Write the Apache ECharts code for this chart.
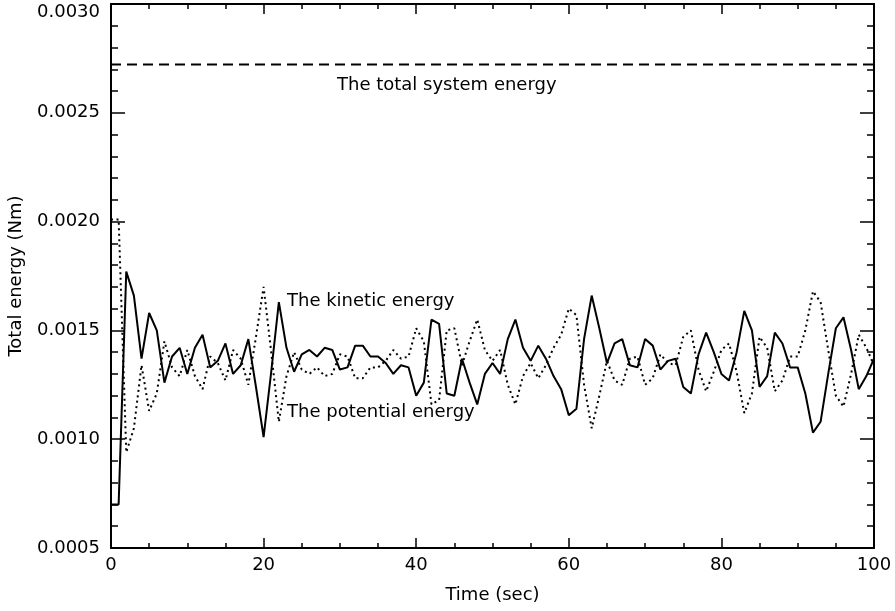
<!DOCTYPE html>
<html>
<head>
<meta charset="utf-8">
<script src="https://cdn.jsdelivr.net/npm/echarts@6/dist/echarts.min.js"></script>
<style>
html,body{margin:0;padding:0;background:#fff;}
#chart{width:895px;height:611px;}
</style>
</head>
<body>
<div id="chart"></div>
<script>
// Data (time step 1 s, t = 0..100)
const timeStep = 1;
const kineticEnergy = [
0.00070,0.00070,0.00177,0.00166,0.00137,0.00158,0.00150,0.00126,0.00138,0.00142,
0.00130,0.00142,0.00148,0.00133,0.00136,0.00144,0.00130,0.00134,0.00146,0.00124,
0.00101,0.00131,0.00163,0.00142,0.00131,0.00139,0.00141,0.00138,0.00142,0.00141,
0.00132,0.00133,0.00143,0.00143,0.00138,0.00138,0.00135,0.00130,0.00134,0.00133,
0.00120,0.00126,0.00155,0.00153,0.00121,0.00120,0.00137,0.00126,0.00116,0.00130,
0.00135,0.00130,0.00146,0.00155,0.00142,0.00136,0.00143,0.00137,0.00129,0.00123,
0.00111,0.00114,0.00146,0.00166,0.00151,0.00135,0.00144,0.00146,0.00134,0.00133,
0.00146,0.00143,0.00132,0.00136,0.00137,0.00124,0.00121,0.00139,0.00149,0.00140,
0.00130,0.00127,0.00140,0.00159,0.00150,0.00124,0.00129,0.00149,0.00144,0.00133,
0.00133,0.00121,0.00103,0.00108,0.00130,0.00151,0.00156,0.00141,0.00123,0.00129,
0.00137
];
const potentialEnergy = [
0.00201,0.00201,0.00094,0.00105,0.00134,0.00113,0.00121,0.00145,0.00133,0.00129,
0.00141,0.00129,0.00123,0.00138,0.00135,0.00127,0.00141,0.00137,0.00125,0.00147,
0.00170,0.00140,0.00108,0.00129,0.00140,0.00132,0.00130,0.00133,0.00129,0.00130,
0.00139,0.00138,0.00128,0.00128,0.00133,0.00133,0.00136,0.00141,0.00137,0.00138,
0.00151,0.00145,0.00116,0.00118,0.00150,0.00151,0.00134,0.00145,0.00155,0.00141,
0.00136,0.00141,0.00125,0.00116,0.00129,0.00135,0.00128,0.00134,0.00142,0.00148,
0.00160,0.00157,0.00125,0.00105,0.00120,0.00136,0.00127,0.00125,0.00137,0.00138,
0.00125,0.00128,0.00139,0.00135,0.00134,0.00147,0.00150,0.00132,0.00122,0.00131,
0.00141,0.00144,0.00131,0.00112,0.00121,0.00147,0.00142,0.00122,0.00127,0.00138,
0.00138,0.00150,0.00168,0.00163,0.00141,0.00120,0.00115,0.00130,0.00148,0.00142,
0.00134
];
const totalTimes = [0, 100];
const totalEnergy = [0.002722, 0.002722];
const xTicks = [0, 20, 40, 60, 80, 100];
const yTicks = [0.0005, 0.0010, 0.0015, 0.0020, 0.0025, 0.0030];
const annotations = {
  total: 'The total system energy',
  kinetic: 'The kinetic energy',
  potential: 'The potential energy'
};

const FONT = 'DejaVu Sans';
const chart = echarts.init(document.getElementById('chart'), null, {renderer: 'canvas'});

const pair = (arr) => arr.map((v, i) => [i * timeStep, v]);

const axisLine = {show: true, onZero: false, lineStyle: {color: '#000', width: 2}};
function xAxisDef(pos, showLabel) {
  return {
    type: 'value', position: pos,
    min: xTicks[0], max: xTicks[xTicks.length - 1], interval: xTicks[1] - xTicks[0],
    axisLine: axisLine,
    axisTick: {show: true, inside: true, length: 10, lineStyle: {color: '#000', width: 1.5}},
    minorTick: {show: true, splitNumber: 4, length: 5, lineStyle: {color: '#000', width: 1.5}},
    splitLine: {show: false},
    axisLabel: {show: showLabel, color: '#000', fontFamily: FONT, fontSize: 18, margin: 8},
    name: showLabel ? 'Time (sec)' : '',
    nameLocation: 'middle', nameGap: 38,
    nameTextStyle: {color: '#000', fontFamily: FONT, fontSize: 18}
  };
}
function yAxisDef(pos, showLabel) {
  return {
    type: 'value', position: pos,
    min: yTicks[0], max: yTicks[yTicks.length - 1], interval: yTicks[1] - yTicks[0],
    axisLine: axisLine,
    axisTick: {show: true, inside: true, length: 14, lineStyle: {color: '#000', width: 1.5}},
    minorTick: {show: true, splitNumber: 5, length: 7, lineStyle: {color: '#000', width: 1.5}},
    splitLine: {show: false},
    axisLabel: {show: showLabel, color: '#000', fontFamily: FONT, fontSize: 18, margin: 11,
      formatter: (v) => (Math.abs(v - yTicks[yTicks.length - 1]) < 1e-9 ? '{top|' + v.toFixed(4) + '}' : v.toFixed(4)),
      rich: {top: {fontFamily: FONT, fontSize: 18, color: '#000', padding: [16, 0, 0, 0]}}},
    name: showLabel ? 'Total energy (Nm)' : '',
    nameLocation: 'middle', nameGap: 86, nameRotate: 90,
    nameTextStyle: {color: '#000', fontFamily: FONT, fontSize: 18}
  };
}

const option = {
  animation: false,
  backgroundColor: '#fff',
  grid: {left: 111, right: 21, top: 4, bottom: 63, containLabel: false, outerBoundsMode: 'none'},
  xAxis: [xAxisDef('bottom', true), xAxisDef('top', false)],
  yAxis: [yAxisDef('left', true), yAxisDef('right', false)],
  series: [
    {
      name: 'total', type: 'line', symbol: 'none', silent: true,
      data: totalTimes.map((t, i) => [t, totalEnergy[i]]),
      lineStyle: {color: '#000', width: 1.8, type: [10, 6]}
    },
    {
      name: 'potential', type: 'line', symbol: 'none', silent: true,
      data: pair(potentialEnergy),
      lineStyle: {color: '#000', width: 2, type: [2, 3.5]}
    },
    {
      name: 'kinetic', type: 'line', symbol: 'none', silent: true,
      data: pair(kineticEnergy),
      lineStyle: {color: '#000', width: 2}
    }
  ],
  graphic: [
    {type: 'text', left: 337, top: 76, style: {text: annotations.total, fill: '#000', font: '18px "DejaVu Sans"'}},
    {type: 'text', left: 287, top: 292, style: {text: annotations.kinetic, fill: '#000', font: '18px "DejaVu Sans"'}},
    {type: 'text', left: 287, top: 403, style: {text: annotations.potential, fill: '#000', font: '18px "DejaVu Sans"'}}
  ]
};
chart.setOption(option);
</script>
</body>
</html>
